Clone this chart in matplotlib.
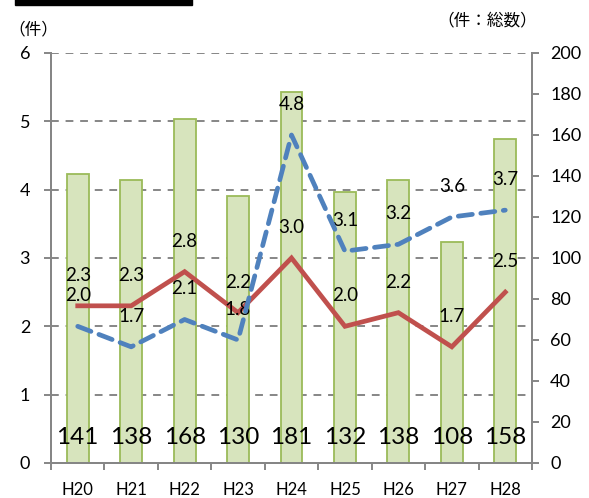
import matplotlib
matplotlib.use("Agg")
import matplotlib.pyplot as plt
from matplotlib.patches import Rectangle

years = ["H20", "H21", "H22", "H23", "H24", "H25", "H26", "H27", "H28"]
totals = [141, 138, 168, 130, 181, 132, 138, 108, 158]
red_vals = [2.3, 2.3, 2.8, 2.2, 3.0, 2.0, 2.2, 1.7, 2.5]
blue_vals = [2.0, 1.7, 2.1, 1.8, 4.8, 3.1, 3.2, 3.6, 3.7]

plt.rcParams["font.family"] = ["Lato", "Noto Sans CJK JP", "DejaVu Sans"]
grey = "#868686"

fig = plt.figure(figsize=(5.89, 4.98), dpi=100)
ax = fig.add_axes([0.0866, 0.0703, 0.8166, 0.8233])
ax2 = ax.twinx()
ax.set_zorder(ax2.get_zorder() + 1)
ax.patch.set_visible(False)

x = list(range(len(years)))

# bars (secondary axis)
ax2.bar(x, totals, width=0.41, color="#D7E4BD", edgecolor="#9BBB59", linewidth=1.3, zorder=2)
for i, v in enumerate(totals):
    ax2.text(i, 12.5, str(v), ha="center", va="center", fontsize=17.5, color="black", zorder=3)
for k in range(1, 7):
    ax2.axhline(k * 200 / 6, color=grey, lw=1.4, ls=(0, (4, 3.5)), zorder=1)
ax2.set_ylim(0, 200)
ax2.set_yticks(range(0, 201, 20))

# lines (primary axis)
ax.plot(x, red_vals, color="#C0504D", lw=3.4, solid_joinstyle="miter", zorder=3)
ax.plot(x, blue_vals, color="#4F81BD", lw=3.4, dashes=(3, 1.8), dash_capstyle="round", zorder=4)
for i, v in enumerate(red_vals):
    ax.annotate(f"{v:.1f}", (i, v), xytext=(0, 22), textcoords="offset points",
                ha="center", va="center", fontsize=13.5)
for i, v in enumerate(blue_vals):
    ax.annotate(f"{v:.1f}", (i, v), xytext=(0, 22), textcoords="offset points",
                ha="center", va="center", fontsize=13.5)
ax.set_ylim(0, 6)
ax.set_yticks(range(0, 7))
ax.set_xlim(-0.5, len(years) - 0.5)
ax.set_xticks(x)
ax.set_xticklabels(years)
ax.set_xticks([k - 0.5 for k in range(len(years) + 1)], minor=True)
ax.tick_params(axis="x", which="major", length=0, pad=14, labelsize=12)
ax.tick_params(axis="x", which="minor", length=5, color=grey, width=1.4)
ax.tick_params(axis="y", length=5, color=grey, width=1.4, labelsize=13, pad=10)
ax2.tick_params(axis="y", length=5, color=grey, width=1.4, labelsize=13, pad=8)

for a in (ax, ax2):
    a.spines["top"].set_visible(False)
    for s in ("left", "right", "bottom"):
        a.spines[s].set_color(grey)
        a.spines[s].set_linewidth(1.4)

fig.text(0.015, 0.94, "（件）", fontsize=12, family=["Noto Sans CJK JP"], va="center")
fig.text(0.912, 0.958, "（件：総数）", fontsize=12, family=["Noto Sans CJK JP"], va="center", ha="right")
fig.add_artist(Rectangle((0.026, 0.99), 0.30, 0.012, transform=fig.transFigure, color="black"))

fig.savefig("out.png", dpi=100)
